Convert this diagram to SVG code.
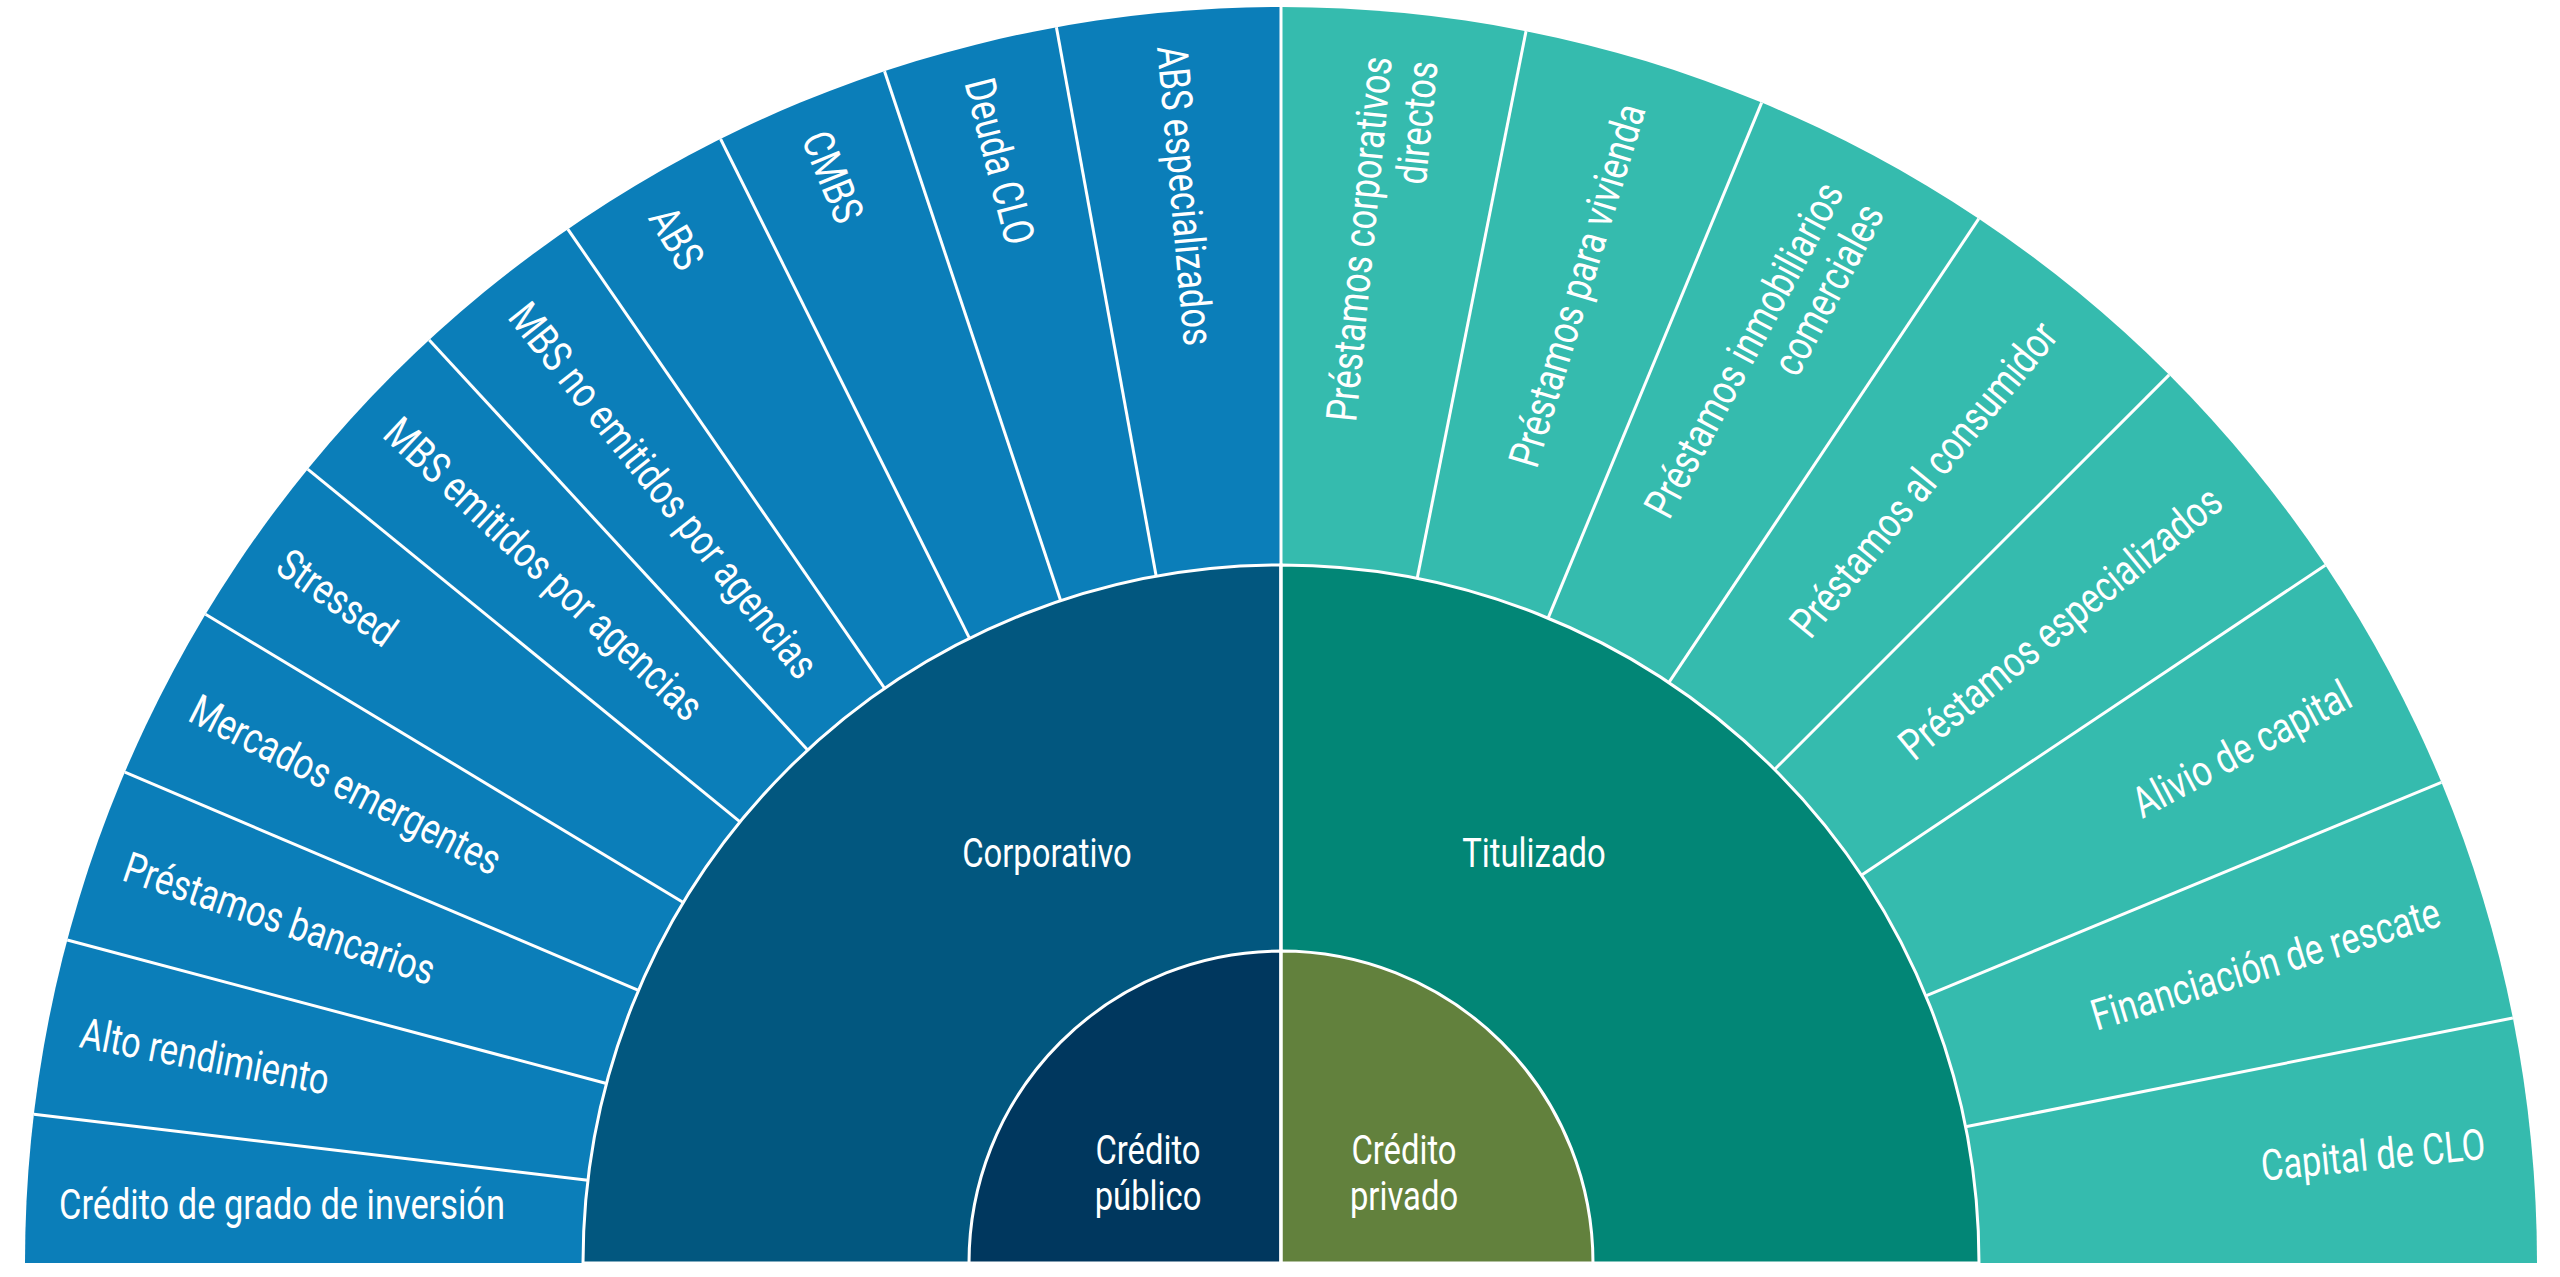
<svg xmlns="http://www.w3.org/2000/svg" width="2560" height="1277" viewBox="0 0 2560 1277">
<style>
.t{font-family:Roboto,"Liberation Sans",sans-serif;font-size:43px;fill:#fff;dominant-baseline:central}
.r{text-anchor:end}
.c{text-anchor:middle;font-size:41px}
.sep{stroke:#fff;stroke-width:3;fill:none}
</style>
<rect width="2560" height="1277" fill="#fff"/>
<g id="outer-left"><path d="M1281 1263 L25 1263 A1256 1256 0 0 1 1281 7 Z" fill="#0B7EB9"/></g>
<g id="outer-right"><path d="M1281 1263 L1281 7 A1256 1256 0 0 1 2537 1263 Z" fill="#35BBAE"/></g>
<g id="corporativo"><path d="M1281 1263 L583 1263 A698 698 0 0 1 1281 565 Z" fill="#02577F" stroke="#fff" stroke-width="3"/>
<text class="t c" transform="translate(1047 853) scale(0.8 1)">Corporativo</text></g>
<g id="titulizado"><path d="M1281 1263 L1281 565 A698 698 0 0 1 1979 1263 Z" fill="#028676" stroke="#fff" stroke-width="3"/>
<text class="t c" transform="translate(1534 853) scale(0.8 1)">Titulizado</text></g>
<g id="publico"><path d="M1281 1263 L969 1263 A312 312 0 0 1 1281 951 Z" fill="#00375E" stroke="#fff" stroke-width="3"/>
<text class="t c" transform="translate(1148 1150) scale(0.8 1)"><tspan x="0" y="0">Crédito</tspan><tspan x="0" y="46">público</tspan></text></g>
<g id="privado"><path d="M1281 1263 L1281 951 A312 312 0 0 1 1593 1263 Z" fill="#62813D" stroke="#fff" stroke-width="3"/>
<text class="t c" transform="translate(1404 1150) scale(0.8 1)"><tspan x="0" y="0">Crédito</tspan><tspan x="0" y="46">privado</tspan></text></g>
<g id="connectors" class="sep">
<line x1="1281" y1="7" x2="1281" y2="1263"/>
<g transform="translate(0 0)">
<line x1="583" y1="1263" x2="25" y2="1263" transform="rotate(6.8 1281 1263)"/>
<line x1="583" y1="1263" x2="25" y2="1263" transform="rotate(14.9 1281 1263)"/>
<line x1="583" y1="1263" x2="25" y2="1263" transform="rotate(23 1281 1263)"/>
<line x1="583" y1="1263" x2="25" y2="1263" transform="rotate(31.1 1281 1263)"/>
<line x1="583" y1="1263" x2="25" y2="1263" transform="rotate(39.2 1281 1263)"/>
<line x1="583" y1="1263" x2="25" y2="1263" transform="rotate(47.3 1281 1263)"/>
<line x1="583" y1="1263" x2="25" y2="1263" transform="rotate(55.4 1281 1263)"/>
<line x1="583" y1="1263" x2="25" y2="1263" transform="rotate(63.5 1281 1263)"/>
<line x1="583" y1="1263" x2="25" y2="1263" transform="rotate(71.6 1281 1263)"/>
<line x1="583" y1="1263" x2="25" y2="1263" transform="rotate(79.7 1281 1263)"/>
<line x1="1979" y1="1263" x2="2537" y2="1263" transform="rotate(-11.25 1281 1263)"/>
<line x1="1979" y1="1263" x2="2537" y2="1263" transform="rotate(-22.5 1281 1263)"/>
<line x1="1979" y1="1263" x2="2537" y2="1263" transform="rotate(-33.75 1281 1263)"/>
<line x1="1979" y1="1263" x2="2537" y2="1263" transform="rotate(-45 1281 1263)"/>
<line x1="1979" y1="1263" x2="2537" y2="1263" transform="rotate(-56.25 1281 1263)"/>
<line x1="1979" y1="1263" x2="2537" y2="1263" transform="rotate(-67.5 1281 1263)"/>
<line x1="1979" y1="1263" x2="2537" y2="1263" transform="rotate(-78.75 1281 1263)"/>
</g>
</g>
<g id="labels-left">
<text class="t" transform="translate(59 1205) scale(0.8 1)">Crédito de grado de inversión</text>
<text class="t" transform="rotate(10.85 1281 1263) translate(59 1263) scale(0.8 1)">Alto rendimiento</text>
<text class="t" transform="rotate(18.95 1281 1263) translate(59 1263) scale(0.8 1)">Préstamos bancarios</text>
<text class="t" transform="rotate(27.05 1281 1263) translate(59 1263) scale(0.8 1)">Mercados emergentes</text>
<text class="t" transform="rotate(35.15 1281 1263) translate(59 1263) scale(0.8 1)">Stressed</text>
<text class="t" transform="rotate(43.25 1281 1263) translate(59 1263) scale(0.8 1)">MBS emitidos por agencias</text>
<text class="t" transform="rotate(51.35 1281 1263) translate(59 1263) scale(0.8 1)">MBS no emitidos por agencias</text>
<text class="t" transform="rotate(59.45 1281 1263) translate(59 1263) scale(0.8 1)">ABS</text>
<text class="t" transform="rotate(67.55 1281 1263) translate(59 1263) scale(0.8 1)">CMBS</text>
<text class="t" transform="rotate(75.65 1281 1263) translate(59 1263) scale(0.8 1)">Deuda CLO</text>
<text class="t" transform="rotate(84.85 1281 1263) translate(59 1263) scale(0.8 1)">ABS especializados</text>
</g>
<g id="labels-right">
<text class="t r" transform="rotate(-84.375 1281 1263) translate(2491 1263) scale(0.8 1)"><tspan x="0" y="-22">Préstamos corporativos</tspan><tspan x="0" y="24">directos</tspan></text>
<text class="t r" transform="rotate(-73.125 1281 1263) translate(2491 1263) scale(0.8 1)">Préstamos para vivienda</text>
<text class="t r" transform="rotate(-61.875 1281 1263) translate(2491 1263) scale(0.8 1)"><tspan x="0" y="-22">Préstamos inmobiliarios</tspan><tspan x="0" y="24">comerciales</tspan></text>
<text class="t r" transform="rotate(-50.625 1281 1263) translate(2491 1263) scale(0.8 1)">Préstamos al consumidor</text>
<text class="t r" transform="rotate(-39.375 1281 1263) translate(2491 1263) scale(0.8 1)">Préstamos especializados</text>
<text class="t r" transform="rotate(-28.125 1281 1263) translate(2491 1263) scale(0.8 1)">Alivio de capital</text>
<text class="t r" transform="rotate(-16.875 1281 1263) translate(2491 1263) scale(0.8 1)">Financiación de rescate</text>
<text class="t r" transform="rotate(-5.625 1281 1263) translate(2491 1263) scale(0.8 1)">Capital de CLO</text>
</g>
</svg>
